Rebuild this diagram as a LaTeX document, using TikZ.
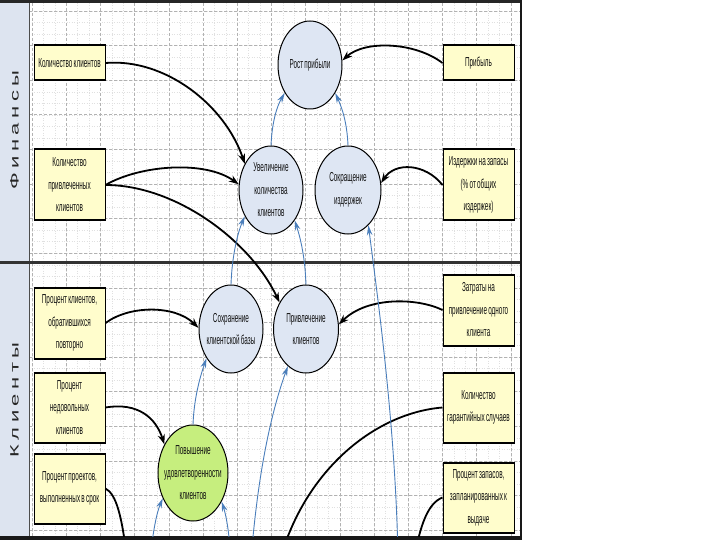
\documentclass[tikz,border=0pt]{standalone}
\usepackage{fontspec}
\setmainfont{Liberation Sans}
\newfontfamily\nf[FakeStretch=0.49,WordSpace=0.7]{Liberation Sans}
\usetikzlibrary{shapes.geometric,arrows.meta}
\definecolor{panel}{HTML}{DDE4F0}
\definecolor{boxfill}{HTML}{FFFDCC}
\definecolor{circfill}{HTML}{DEE6F3}
\definecolor{greenfill}{HTML}{C6EE7E}
\definecolor{bluearr}{HTML}{4A7EBB}
\definecolor{txt}{HTML}{111111}
\begin{document}
\begin{tikzpicture}[x=1pt,y=-1pt,
  kpibox/.style={draw=black, line width=1pt, fill=boxfill, minimum width=71pt, inner sep=0pt},
  goal/.style={ellipse, draw=black, line width=1pt, fill=circfill, inner sep=0pt, minimum width=64pt, minimum height=88pt},
  lbl/.style={align=center, inner sep=0pt, font=\nf\fontsize{13}{22.5}\selectfont, text=txt},
  vlabel/.style={inner sep=0pt, text=black!85, font=\fontsize{22}{22}\selectfont},
  blk/.style={line width=1.8pt, -{Stealth[length=10pt,width=7pt]}},
  blkline/.style={line width=1.8pt},
  blu/.style={draw=bluearr, line width=0.9pt, -{Stealth[length=10pt,width=5.5pt]}},
  gridmaj/.style={draw=black!30, line width=0.6pt, dash pattern=on 3pt off 2pt},
  gridmin/.style={draw=black!12, line width=0.4pt, dash pattern=on 1pt off 1.5pt},
]
\useasboundingbox (0,0) rectangle (720,540);
\fill[white] (0,0) rectangle (720,540);
% left panel
\fill[panel] (0,3) rectangle (29,537);
% grid
\begin{scope}
\clip (29,3) rectangle (521,537);
\foreach \k in {0,...,46} {
  \draw[gridmin] ({32+11.4*\k},3) -- ({32+11.4*\k},537);
  \draw[gridmin] (29,{11+11.533*\k}) -- (521,{11+11.533*\k});
}
\foreach \k in {0,...,14} {
  \draw[gridmaj] ({32+34.2*\k},3) -- ({32+34.2*\k},537);
}
\foreach \k in {0,...,15} {
  \draw[gridmaj] (29,{11+34.6*\k}) -- (521,{11+34.6*\k});
}
\end{scope}
% frame
\draw[line width=1pt, black!70] (29,2) -- (29,538);
\draw[line width=3pt, black!85] (0,1.5) -- (522,1.5);
\draw[line width=3pt, black!80] (0,262) -- (522,262);
\draw[line width=4pt, black!90] (0,538) -- (522,538);
\draw[line width=2.5pt, black!90] (521,0) -- (521,540);
% section labels
\node[vlabel] (fin) at (14.5,130) {\rotatebox{90}{\scalebox{1}[0.55]{Ф\kern4.5pt и\kern4.5pt н\kern4.5pt а\kern4.5pt н\kern4.5pt с\kern4.5pt ы}}};
\node[vlabel] (kli) at (14.5,400) {\rotatebox{90}{\scalebox{1}[0.55]{К\kern4.5pt л\kern4.5pt и\kern4.5pt е\kern4.5pt н\kern4.5pt т\kern4.5pt ы}}};
% KPI boxes
\node[kpibox, minimum height=34pt] (kk) at (69.5,63) {};
\node[kpibox, minimum height=70pt] (kpk) at (69.5,185) {};
\node[kpibox, minimum height=34pt] (prib) at (478.5,63) {};
\node[kpibox, minimum height=70pt] (izd) at (478.5,185) {};
\node[kpibox, minimum height=70pt] (pko) at (69.5,323) {};
\node[kpibox, minimum height=69pt] (pnk) at (69.5,407.5) {};
\node[kpibox, minimum height=69pt] (pps) at (69.5,488.5) {};
\node[kpibox, minimum height=70pt] (zat) at (478.5,310) {};
\node[kpibox, minimum height=69pt] (kgs) at (478.5,407.5) {};
\node[kpibox, minimum height=69pt] (pzv) at (478.5,497.5) {};
\foreach \b in {kk,kpk,prib,izd,pko,pnk,pps,zat,kgs,pzv} {
  \draw[line width=2pt] (\b.north west) -- (\b.north east);
  \draw[line width=2pt] (\b.south west) -- (\b.south east);
}
\node[lbl] (kkT) at (kk) {Количество клиентов};
\node[lbl] (kpkT) at (kpk) {Количество\\привлеченных\\клиентов};
\node[lbl] (pribT) at (prib) {Прибыль};
\node[lbl] (izdT) at (izd) {Издержки на запасы\\(\% от общих\\издержек)};
\node[lbl] (pkoT) at (pko) {Процент клиентов,\\обратившихся\\повторно};
\node[lbl] (pnkT) at (pnk) {Процент\\недовольных\\клиентов};
\node[lbl] (ppsT) at (pps) {Процент проектов,\\выполненных в срок};
\node[lbl] (zatT) at (zat) {Затраты на\\привлечение одного\\клиента};
\node[lbl] (kgsT) at (kgs) {Количество\\гарантийных случаев};
\node[lbl] (pzvT) at (pzv) {Процент запасов,\\запланированных к\\выдаче};
% goals
\node[goal] (rost) at (310,65) {};
\node[lbl] (rostT) at (rost) {Рост прибыли};
\node[goal] (uvk) at (271,190) {};
\node[lbl] (uvkT) at (uvk) {Увеличение\\количества\\клиентов};
\node[goal, minimum width=66pt] (sokr) at (348,190) {};
\node[lbl] (sokrT) at (sokr) {Сокращение\\издержек};
\node[goal] (sohr) at (231,329) {};
\node[lbl] (sohrT) at (sohr) {Сохранение\\клиентской базы};
\node[goal, minimum width=65pt] (privl) at (306,329) {};
\node[lbl] (privlT) at (privl) {Привлечение\\клиентов};
\node[goal, fill=greenfill, minimum width=70pt, minimum height=96pt] (povysh) at (193,473) {};
\node[lbl] (povyshT) at (povysh) {Повышение\\удовлетворенности\\клиентов};
% free ends below the frame
\coordinate (e8) at (127,560);
\coordinate (e10) at (280,560);
\coordinate (e11) at (414,560);
\coordinate (b5) at (398,560);
\coordinate (b7) at (251,560);
\coordinate (b8) at (150,560);
\coordinate (b9) at (231,560);
\begin{scope}
\clip (0,0) rectangle (521,536);
% black connectors
\draw[blk] (kk.east) .. controls (165,58) and (225,105) .. (uvk.135);
\draw[blk] (kpk.east) .. controls (140,165) and (205,160) .. (uvk.170);
\draw[blk] (kpk.east) .. controls (175,185) and (250,240) .. (privl.135);
\draw[blk] (prib.west) .. controls (415,42) and (365,40) .. (rost.8);
\draw[blk] (izd.west) .. controls (425,163) and (395,162) .. (sokr.12);
\draw[blk] (pko.east) .. controls (130,305) and (175,305) .. (sohr.178);
\draw[blk] (pnk.east) .. controls (138,402) and (156,418) .. (povysh.135);
\draw[blk] (zat.west) .. controls (418,298) and (368,296) .. (privl.8);
\draw[blkline] (pps.east) .. controls (116,494) and (122,515) .. (e8);
\draw[blkline] (kgs.west) .. controls (375,413) and (305,470) .. (e10);
\draw[blkline] (pzv.west) .. controls (428,503) and (420,525) .. (e11);
% blue connectors
\draw[blu] (uvk.north) .. controls (272,122) and (277,106) .. (rost.228);
\draw[blu] (sokr.north) .. controls (347,122) and (342,108) .. (rost.-48);
\draw[blu] (sohr.north) .. controls (232,255) and (238,232) .. (uvk.225);
\draw[blu] (privl.north) .. controls (305,258) and (301,240) .. (uvk.-52);
\draw[blu] (povysh.north) .. controls (194,400) and (199,380) .. (sohr.230);
\draw[blu] (b5) .. controls (396,430) and (378,300) .. (sokr.-60);
\draw[blu] (b7) .. controls (258,470) and (272,410) .. (privl.244);
\draw[blu] (b8) .. controls (153,530) and (157,512) .. (povysh.220);
\draw[blu] (b9) .. controls (229,530) and (226,515) .. (povysh.-45);
\end{scope}
\end{tikzpicture}
\end{document}
